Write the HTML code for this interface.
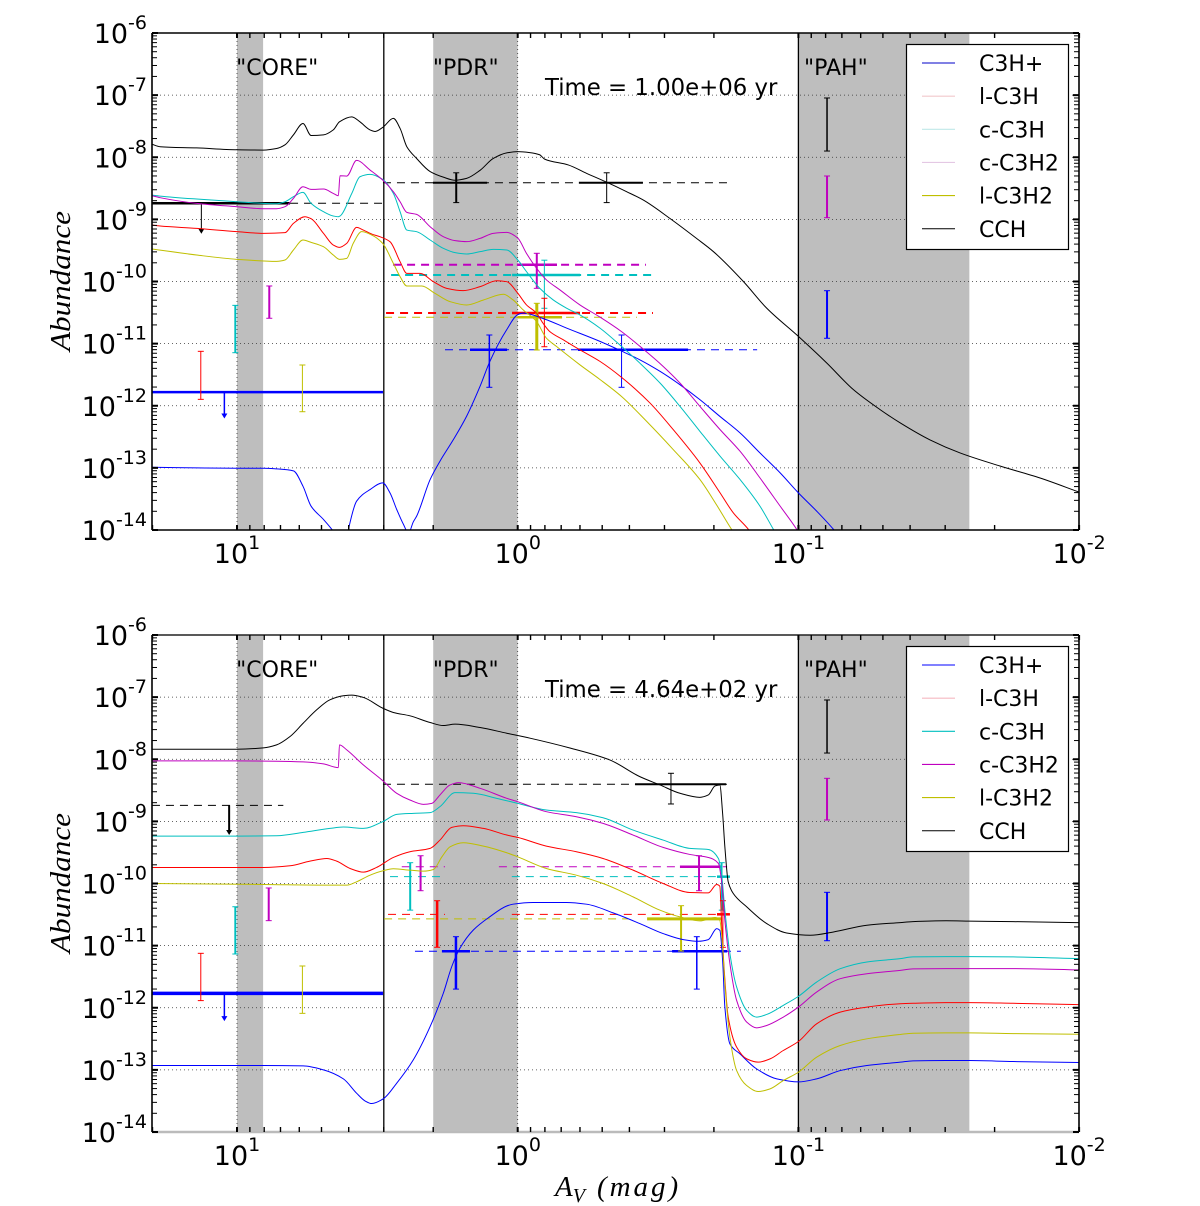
<!DOCTYPE html>
<html lang="en">
<head>
<meta charset="utf-8">
<title>Abundance versus visual extinction</title>
<style>
html,body{margin:0;padding:0;background:#fff;width:1200px;height:1206px;overflow:hidden}
svg{display:block}
text{font-family:"DejaVu Sans","Liberation Sans",sans-serif;fill:#000}
.math{font-family:"Liberation Serif",serif;font-style:italic}
</style>
</head>
<body>
<svg id="figure" xmlns="http://www.w3.org/2000/svg" width="1200" height="1206" viewBox="0 0 1200 1206">
<defs>
<clipPath id="clip-top"><rect x="152" y="33" width="927" height="497"></rect></clipPath>
<clipPath id="clip-bottom"><rect x="152" y="635" width="927" height="497"></rect></clipPath>
</defs>
</svg>
<script>
// ---- tick labels ----
const yTickExponents = [-6,-7,-8,-9,-10,-11,-12,-13,-14];
const xTickExponents = [1,0,-1,-2];
const speciesNames = ['C3H+','l-C3H','c-C3H','c-C3H2','l-C3H2','CCH'];

// ---- upper panel curves: [log10 Av, log10 abundance] ----
const topCch = [[1.303,-7.79],[1.274,-7.83],[1.144,-7.85],[1.001,-7.88],[.906,-7.885],[.859,-7.86],[.829,-7.80],[.799,-7.64],[.765,-7.456],[.736,-7.65],[.692,-7.64],[.657,-7.56],[.635,-7.43],[.591,-7.35],[.562,-7.43],[.526,-7.56],[.508,-7.585],[.481,-7.52],[.443,-7.375],[.419,-7.536],[.395,-7.83],[.36,-8.02],[.312,-8.23],[.265,-8.32],[.223,-8.37],[.182,-8.34],[.134,-8.21],[.087,-8.02],[.039,-7.93],[0,-7.91],[-.043,-7.925],[-.078,-7.96],[-.096,-8.03],[-.18,-8.124],[-.245,-8.258],[-.316,-8.40],[-.388,-8.554],[-.447,-8.688],[-.542,-8.984],[-.637,-9.306],[-.697,-9.518],[-.804,-10],[-.887,-10.429],[-1,-10.884],[-1.101,-11.312],[-1.196,-11.741],[-1.291,-12.062],[-1.363,-12.277],[-1.469,-12.55],[-1.576,-12.76],[-1.718,-12.97],[-1.861,-13.163],[-2,-13.39]];
const topMagenta = [[1.303,-8.619],[1.274,-8.651],[1.144,-8.742],[1.001,-8.796],[.906,-8.828],[.859,-8.828],[.829,-8.796],[.799,-8.662],[.765,-8.475],[.736,-8.517],[.692,-8.512],[.657,-8.582],[.639,-8.619],[.633,-8.298],[.609,-8.303],[.574,-8.051],[.526,-8.206],[.481,-8.367],[.443,-8.555],[.419,-8.716],[.395,-8.887],[.36,-8.92],[.312,-9.118],[.265,-9.279],[.223,-9.343],[.182,-9.359],[.134,-9.306],[.087,-9.225],[.039,-9.209],[0,-9.30],[-.031,-9.545],[-.067,-9.786],[-.102,-9.973],[-.15,-10.134],[-.221,-10.375],[-.293,-10.573],[-.37,-10.807],[-.447,-11.087],[-.518,-11.366],[-.578,-11.634],[-.649,-12.009],[-.721,-12.384],[-.792,-12.732],[-.863,-13.161],[-.935,-13.616],[-.994,-13.99],[-1.03,-14.26]];
const topCyan = [[1.303,-8.609],[1.274,-8.625],[1.144,-8.673],[1.001,-8.716],[.906,-8.743],[.859,-8.748],[.829,-8.716],[.799,-8.635],[.765,-8.566],[.736,-8.743],[.692,-8.877],[.657,-8.946],[.639,-8.957],[.633,-8.946],[.591,-8.582],[.562,-8.314],[.526,-8.276],[.481,-8.357],[.443,-8.582],[.419,-8.877],[.395,-9.172],[.36,-9.198],[.312,-9.332],[.265,-9.466],[.223,-9.536],[.182,-9.558],[.134,-9.52],[.087,-9.483],[.039,-9.493],[0,-9.652],[-.031,-9.839],[-.078,-10.107],[-.126,-10.295],[-.174,-10.429],[-.221,-10.536],[-.293,-10.75],[-.37,-11.045],[-.435,-11.313],[-.507,-11.634],[-.578,-12.009],[-.649,-12.411],[-.721,-12.812],[-.792,-13.187],[-.863,-13.616],[-.911,-13.99],[-.946,-14.26]];
const topRed = [[1.303,-9.091],[1.274,-9.107],[1.144,-9.145],[1.001,-9.198],[.906,-9.225],[.829,-9.214],[.799,-9.064],[.758,-8.957],[.736,-8.989],[.692,-9.225],[.657,-9.413],[.635,-9.451],[.609,-9.386],[.574,-9.129],[.55,-9.172],[.52,-9.236],[.491,-9.279],[.455,-9.359],[.419,-9.681],[.395,-9.869],[.348,-9.869],[.3,-10.003],[.253,-10.11],[.194,-10.147],[.134,-10.083],[.075,-9.987],[.039,-10.003],[0,-10.187],[-.031,-10.375],[-.067,-10.509],[-.09,-10.67],[-.114,-10.804],[-.162,-10.937],[-.221,-11.098],[-.293,-11.286],[-.37,-11.543],[-.471,-11.955],[-.554,-12.384],[-.649,-12.92],[-.721,-13.402],[-.768,-13.723],[-.822,-13.99],[-.863,-14.26]];
const topYellow = [[1.303,-9.477],[1.144,-9.574],[1.001,-9.643],[.859,-9.676],[.829,-9.654],[.799,-9.493],[.765,-9.332],[.736,-9.37],[.692,-9.44],[.657,-9.574],[.635,-9.643],[.609,-9.627],[.586,-9.386],[.556,-9.198],[.52,-9.252],[.481,-9.386],[.443,-9.708],[.419,-9.922],[.395,-10.072],[.342,-10.072],[.295,-10.19],[.241,-10.324],[.182,-10.378],[.122,-10.298],[.051,-10.206],[.017,-10.295],[-.019,-10.455],[-.067,-10.643],[-.102,-10.911],[-.138,-11.045],[-.221,-11.339],[-.293,-11.577],[-.37,-11.851],[-.459,-12.25],[-.554,-12.705],[-.649,-13.187],[-.709,-13.6],[-.762,-13.99],[-.804,-14.26]];
const topBlue = [[1.303,-12.99],[1.144,-13],[1.001,-13.005],[.906,-13.005],[.859,-13.016],[.799,-13.048],[.765,-13.295],[.736,-13.617],[.692,-13.83],[.662,-13.99],[.639,-14.13],[.609,-14.13],[.603,-13.99],[.574,-13.536],[.526,-13.349],[.481,-13.241],[.455,-13.402],[.431,-13.67],[.407,-13.91],[.389,-14.05],[.372,-13.87],[.36,-13.777],[.312,-13.188],[.277,-12.893],[.229,-12.544],[.182,-12.169],[.134,-11.686],[.099,-11.284],[.039,-10.775],[0,-10.534],[-.019,-10.509],[-.096,-10.605],[-.174,-10.75],[-.293,-10.964],[-.37,-11.12],[-.435,-11.26],[-.507,-11.446],[-.578,-11.661],[-.649,-11.902],[-.72,-12.17],[-.792,-12.437],[-.863,-12.759],[-.935,-13.08],[-1,-13.402],[-1.065,-13.696],[-1.125,-13.99],[-1.172,-14.26]];

// ---- lower panel curves ----
const botCch = [[1.303,-7.839],[1.001,-7.839],[.906,-7.817],[.859,-7.769],[.811,-7.634],[.764,-7.419],[.716,-7.204],[.669,-7.043],[.621,-6.978],[.591,-6.968],[.55,-7.005],[.481,-7.177],[.443,-7.247],[.384,-7.301],[.312,-7.409],[.265,-7.457],[.223,-7.435],[.134,-7.489],[.039,-7.581],[-.044,-7.661],[-.186,-7.819],[-.328,-8.011],[-.435,-8.28],[-.507,-8.414],[-.578,-8.548],[-.649,-8.613],[-.679,-8.575],[-.703,-8.43],[-.72,-8.414],[-.73,-8.871],[-.738,-9.409],[-.75,-9.973],[-.768,-10.161],[-.816,-10.376],[-.887,-10.645],[-.958,-10.796],[-1.042,-10.833],[-1.125,-10.78],[-1.244,-10.672],[-1.363,-10.629],[-1.408,-10.614],[-1.526,-10.6],[-1.608,-10.605],[-1.765,-10.614],[-2,-10.63]];
const botCyan = [[1.303,-9.237],[1.001,-9.237],[.859,-9.231],[.764,-9.177],[.669,-9.113],[.621,-9.091],[.55,-9.113],[.481,-9.005],[.431,-8.887],[.372,-8.871],[.312,-8.86],[.277,-8.763],[.223,-8.538],[.158,-8.548],[.075,-8.629],[0,-8.71],[-.102,-8.817],[-.209,-8.86],[-.304,-8.941],[-.411,-9.14],[-.518,-9.301],[-.613,-9.435],[-.679,-9.452],[-.715,-9.597],[-.726,-9.839],[-.738,-10.43],[-.756,-11.129],[-.78,-11.667],[-.816,-12.043],[-.851,-12.151],[-.887,-12.108],[-.946,-11.962],[-1,-11.817],[-1.065,-11.586],[-1.149,-11.371],[-1.244,-11.263],[-1.363,-11.209],[-1.408,-11.182],[-1.526,-11.177],[-1.608,-11.177],[-1.765,-11.182],[-2,-11.209]];
const botMagenta = [[1.303,-8.027],[1.001,-8.027],[.859,-8.032],[.764,-8.043],[.692,-8.075],[.639,-8.134],[.635,-7.769],[.609,-7.849],[.55,-8.091],[.481,-8.344],[.431,-8.548],[.384,-8.656],[.336,-8.726],[.306,-8.71],[.277,-8.575],[.241,-8.414],[.211,-8.376],[.134,-8.468],[.039,-8.629],[0,-8.683],[-.102,-8.844],[-.209,-8.925],[-.304,-9.032],[-.411,-9.22],[-.518,-9.419],[-.613,-9.532],[-.679,-9.581],[-.715,-9.677],[-.726,-9.946],[-.738,-10.591],[-.756,-11.29],[-.78,-11.882],[-.816,-12.231],[-.851,-12.323],[-.887,-12.285],[-.946,-12.151],[-1,-11.989],[-1.065,-11.747],[-1.149,-11.532],[-1.244,-11.452],[-1.363,-11.398],[-1.408,-11.375],[-1.526,-11.37],[-1.608,-11.37],[-1.765,-11.37],[-2,-11.391]];
const botRed = [[1.303,-9.742],[.906,-9.742],[.811,-9.715],[.74,-9.64],[.68,-9.597],[.645,-9.64],[.597,-9.758],[.55,-9.817],[.503,-9.742],[.443,-9.581],[.384,-9.489],[.312,-9.435],[.277,-9.301],[.235,-9.097],[.194,-9.07],[.122,-9.113],[.039,-9.22],[0,-9.258],[-.102,-9.398],[-.209,-9.489],[-.304,-9.597],[-.411,-9.785],[-.518,-10],[-.613,-10.145],[-.679,-10.151],[-.709,-10.016],[-.72,-10.043],[-.726,-10.591],[-.735,-11.344],[-.75,-12.151],[-.78,-12.634],[-.816,-12.823],[-.857,-12.876],[-.899,-12.823],[-.946,-12.688],[-1,-12.543],[-1.065,-12.258],[-1.149,-12.07],[-1.244,-11.989],[-1.363,-11.935],[-1.408,-11.928],[-1.526,-11.917],[-1.608,-11.917],[-1.765,-11.928],[-2,-11.949]];
const botYellow = [[1.303,-10],[.906,-10.016],[.669,-10.027],[.609,-10.027],[.574,-9.973],[.526,-9.866],[.481,-9.796],[.443,-9.763],[.384,-9.785],[.336,-9.801],[.3,-9.774],[.27,-9.57],[.241,-9.409],[.194,-9.344],[.122,-9.398],[.039,-9.505],[0,-9.57],[-.102,-9.758],[-.209,-9.866],[-.304,-10],[-.411,-10.215],[-.507,-10.43],[-.578,-10.538],[-.649,-10.602],[-.703,-10.548],[-.72,-10.591],[-.73,-11.022],[-.738,-11.613],[-.756,-12.473],[-.78,-13.011],[-.816,-13.253],[-.857,-13.349],[-.899,-13.306],[-.946,-13.172],[-1,-13.038],[-1.065,-12.796],[-1.149,-12.608],[-1.244,-12.5],[-1.363,-12.43],[-1.408,-12.41],[-1.526,-12.405],[-1.608,-12.405],[-1.765,-12.416],[-2,-12.426]];
const botBlue = [[1.303,-12.93],[.906,-12.93],[.764,-12.936],[.692,-13],[.621,-13.145],[.574,-13.375],[.544,-13.499],[.52,-13.542],[.479,-13.466],[.431,-13.214],[.372,-12.839],[.312,-12.303],[.265,-11.767],[.235,-11.338],[.206,-11.043],[.158,-10.748],[.099,-10.534],[.039,-10.362],[.017,-10.333],[-.055,-10.306],[-.174,-10.306],[-.245,-10.333],[-.34,-10.473],[-.435,-10.645],[-.518,-10.806],[-.59,-10.903],[-.643,-10.93],[-.679,-10.903],[-.709,-10.726],[-.72,-10.753],[-.73,-11.237],[-.738,-11.989],[-.756,-12.581],[-.792,-12.742],[-.851,-12.984],[-.923,-13.145],[-1,-13.194],[-1.065,-13.145],[-1.149,-13.011],[-1.244,-12.93],[-1.363,-12.876],[-1.408,-12.855],[-1.526,-12.85],[-1.608,-12.85],[-1.765,-12.866],[-2,-12.882]];

// ---- observed error bars: [log Av, log N high, log N low, species, width] ----
const topErrorBars = [[-1.102,-7.046,-7.9,'k',1.5],[-1.102,-8.302,-8.973,'m',2],[-1.102,-10.148,-10.914,'b',2],[1.129,-11.124,-11.897,'r',1],[1.006,-10.384,-11.146,'c',2],[.885,-10.072,-10.592,'m',2],[.767,-11.344,-12.096,'y',1],[.219,-8.25,-8.73,'k',2],[-.317,-8.25,-8.73,'k',1],[-.068,-9.546,-10.11,'m',2],[-.095,-9.657,-10.431,'c',1],[-.095,-10.27,-11.05,'r',1],[-.068,-10.351,-11.103,'y',3],[.101,-10.861,-11.703,'b',1.5],[-.37,-10.861,-11.703,'b',1]];
const botErrorBars = [[-1.102,-7.046,-7.9,'k',1.5],[-1.102,-8.307,-8.978,'m',2],[-1.102,-10.142,-10.921,'b',2],[1.129,-11.124,-11.885,'r',1],[1.006,-10.374,-11.135,'c',2],[.887,-10.072,-10.598,'m',2],[.767,-11.328,-12.09,'y',1],[-.546,-8.226,-8.72,'k',1],[-.646,-9.553,-10.116,'m',2],[.346,-9.553,-10.116,'m',2],[.383,-9.665,-10.429,'c',2],[-.727,-9.665,-10.429,'c',1.5],[-.582,-10.357,-11.087,'y',2],[-.638,-10.856,-11.7,'b',1.5],[.287,-10.277,-11.027,'r',2.5],[.22,-10.856,-11.7,'b',2.5],[-.731,-10.277,-11.027,'r',1]];

// ---- observed abundance levels: [log Av start, log Av end, log N, species, width, dashed] ----
const topLevels = [[1.303,.48,-11.78,'b',2.5,0],[1.303,.811,-8.741,'k',2.5,0],[.811,.48,-8.741,'k',1,1],[.48,-.746,-8.41,'k',1,1],[.302,.109,-8.41,'k',2,0],[-.218,-.446,-8.41,'k',2,0],[.444,-.457,-9.73,'m',2,1],[.003,-.14,-9.73,'m',2.5,0],[.451,-.478,-9.895,'c',2,1],[.02,-.222,-9.895,'c',2.5,0],[.469,-.482,-10.507,'r',2,1],[.02,-.222,-10.507,'r',2.5,0],[.476,-.425,-10.576,'y',1,1],[0,-.158,-10.576,'y',2.5,0],[.259,-.853,-11.098,'b',1,1],[.17,.038,-11.098,'b',2.5,0],[-.215,-.607,-11.098,'b',2.5,0]];
const botLevels = [[1.303,.48,-11.768,'b',3.5,0],[1.303,.835,-8.742,'k',1,1],[.48,-.746,-8.403,'k',1,1],[-.418,-.742,-8.403,'k',2,0],[.413,.259,-9.73,'m',1,1],[.067,-.746,-9.73,'m',1,1],[-.578,-.728,-9.73,'m',2.5,0],[.455,.259,-9.89,'c',1,1],[.021,-.756,-9.89,'c',1,1],[-.71,-.756,-9.89,'c',2.5,0],[.462,.259,-10.496,'r',1,1],[.021,-.756,-10.496,'r',1,1],[-.71,-.756,-10.496,'r',2.5,0],[.476,-.393,-10.57,'y',1,1],[-.461,-.728,-10.57,'y',3,0],[.366,-.795,-11.09,'b',1,1],[.27,.17,-11.09,'b',2.5,0],[-.55,-.746,-11.09,'b',2.5,0]];

// ---- upper-limit arrows: [log Av, log N start, log N end, species, width] ----
const topArrows = [[1.045,-11.785,-12.19,'b',1.5],[1.127,-8.741,-9.215,'k',1]];
const botArrows = [[1.045,-11.768,-12.2,'b',1.5],[1.028,-8.742,-9.203,'k',2]];

// ---- model regions, log Av bounds ----
const shadedRegions = [[1,.907],[.301,0],[-1,-1.609]];
const regionDividers = [.477,-1];
const regionLabels = [['"CORE"',1.003],['"PDR"',.302],['"PAH"',-1.02]];

const colors = {k:'#000000',m:'#bf00bf',c:'#00bfbf',y:'#bfbf00',r:'#ff0000',b:'#0000ff'};
const NS = 'http://www.w3.org/2000/svg';
const svg = document.getElementById('figure');
const DEC_Y = 62.125, DEC_X = 280.7, X0 = 237, LEFT = 152, RIGHT = 1079;

function xScale(l){ return X0 + (1 - l) * DEC_X; }
function yScale(top, n){ return top + (-6 - n) * DEC_Y; }

function add(parent, tag, attrs, name, interact){
  const el = document.createElementNS(NS, tag);
  for (const k in attrs) el.setAttribute(k, attrs[k]);
  
  
  parent.appendChild(el);
  return el;
}

// Shape-preserving cubic path through the scaled points
function smoothPath(pts){
  const n = pts.length, d = [], h = [], m = [];
  for (let i = 0; i < n - 1; i++){
    h[i] = Math.max(pts[i+1][0] - pts[i][0], 0.01);
    d[i] = (pts[i+1][1] - pts[i][1]) / h[i];
  }
  m[0] = d[0]; m[n-1] = d[n-2];
  for (let i = 1; i < n - 1; i++){
    if (d[i-1] * d[i] <= 0) { m[i] = 0; continue; }
    const w1 = 2 * h[i] + h[i-1], w2 = h[i] + 2 * h[i-1];
    m[i] = (w1 + w2) / (w1 / d[i-1] + w2 / d[i]);
  }
  let s = 'M' + pts[0][0].toFixed(2) + ' ' + pts[0][1].toFixed(2);
  for (let i = 0; i < n - 1; i++){
    const t = h[i] / 3;
    s += 'C' + (pts[i][0] + t).toFixed(2) + ' ' + (pts[i][1] + m[i] * t).toFixed(2) + ' ' +
         (pts[i+1][0] - t).toFixed(2) + ' ' + (pts[i+1][1] - m[i+1] * t).toFixed(2) + ' ' +
         pts[i+1][0].toFixed(2) + ' ' + pts[i+1][1].toFixed(2);
  }
  return s;
}

function drawPanel(cfg){
  const top = cfg.top, bottom = top + 8 * DEC_Y;
  const y = n => yScale(top, n);
  const g = add(svg, 'g', {}, cfg.key + '-panel');

  shadedRegions.forEach(r => {
    add(g, 'rect', {x:xScale(r[0]), y:top, width:xScale(r[1]) - xScale(r[0]), height:bottom - top, fill:'#bebebe'}, 'shaded-region');
  });

  yTickExponents.forEach(e => {
    add(g, 'line', {x1:LEFT, x2:RIGHT, y1:y(e), y2:y(e), stroke:'#333', 'stroke-width':.8, 'stroke-dasharray':'1 3'}, 'y-gridline');
  });
  xTickExponents.forEach(e => {
    add(g, 'line', {x1:xScale(e), x2:xScale(e), y1:top, y2:bottom, stroke:'#333', 'stroke-width':.8, 'stroke-dasharray':'1 3'}, 'x-gridline');
  });

  regionDividers.forEach(l => {
    add(g, 'line', {x1:xScale(l), x2:xScale(l), y1:top, y2:bottom, stroke:'#000', 'stroke-width':1.3}, 'region-divider');
  });

  const marks = add(g, 'g', {'clip-path':'url(#clip-' + cfg.key + ')'}, cfg.key + '-marks');

  cfg.levels.forEach(v => {
    const a = {x1:xScale(v[0]), x2:xScale(v[1]), y1:y(v[2]), y2:y(v[2]), stroke:colors[v[3]], 'stroke-width':v[4]};
    if (v[5]) a['stroke-dasharray'] = '8 6';
    add(marks, 'line', a, 'observed-level');
  });

  cfg.bars.forEach(v => {
    const bar = add(marks, 'g', {stroke:colors[v[3]], 'stroke-width':v[4]}, 'error-bar');
    add(bar, 'line', {x1:xScale(v[0]), x2:xScale(v[0]), y1:y(v[1]), y2:y(v[2])}, 'error-bar-stem');
    add(bar, 'line', {x1:xScale(v[0]) - 3, x2:xScale(v[0]) + 3, y1:y(v[1]), y2:y(v[1]), 'stroke-width':1}, 'error-bar-cap');
    add(bar, 'line', {x1:xScale(v[0]) - 3, x2:xScale(v[0]) + 3, y1:y(v[2]), y2:y(v[2]), 'stroke-width':1}, 'error-bar-cap');
  });

  cfg.arrows.forEach(v => {
    const x = xScale(v[0]), y1 = y(v[1]), y2 = y(v[2]);
    add(marks, 'line', {x1:x, x2:x, y1:y1, y2:y2 - 3, stroke:colors[v[3]], 'stroke-width':v[4]}, 'upper-limit-arrow');
    add(marks, 'polygon', {points:(x-3)+','+(y2-4)+' '+(x+3)+','+(y2-4)+' '+x+','+(y2+1), fill:colors[v[3]]}, 'upper-limit-arrowhead');
  });

  cfg.series.forEach(s => {
    const pts = s.data.map(p => [xScale(p[0]), y(p[1])]);
    add(marks, 'path', {d:smoothPath(pts), fill:'none', stroke:colors[s.color], 'stroke-width':1, 'stroke-linejoin':'round'}, 'curve-' + s.name.toLowerCase().replace('+','-plus'));
  });

  // frame
  add(g, 'line', {x1:LEFT, x2:RIGHT, y1:top, y2:top, stroke:cfg.frameTop, 'stroke-width':1.6}, 'axis-top');
  add(g, 'line', {x1:LEFT, x2:RIGHT, y1:bottom, y2:bottom, stroke:cfg.frameBottom, 'stroke-width':cfg.frameBottomWidth}, 'axis-bottom');
  add(g, 'line', {x1:LEFT, x2:LEFT, y1:top, y2:bottom, stroke:'#000', 'stroke-width':1.6}, 'axis-left');
  add(g, 'line', {x1:RIGHT, x2:RIGHT, y1:top, y2:bottom, stroke:'#000', 'stroke-width':1.6}, 'axis-right');

  // y ticks
  for (let e = -14; e <= -6; e++){
    add(g, 'line', {x1:LEFT, x2:LEFT + 6, y1:y(e), y2:y(e), stroke:'#000', 'stroke-width':2}, 'y-major-tick');
    add(g, 'line', {x1:RIGHT - 6, x2:RIGHT, y1:y(e), y2:y(e), stroke:'#000', 'stroke-width':2}, 'y-major-tick-right');
    if (e < -6) for (let m = 2; m < 10; m++){
      const yy = y(e + Math.log10(m));
      add(g, 'line', {x1:LEFT, x2:LEFT + 5, y1:yy, y2:yy, stroke:'#000', 'stroke-width':1}, 'y-minor-tick');
      add(g, 'line', {x1:RIGHT - 5, x2:RIGHT, y1:yy, y2:yy, stroke:'#000', 'stroke-width':1}, 'y-minor-tick-right');
    }
  }
  // x ticks
  for (let e = -3; e <= 1; e++){
    for (let m = 1; m < 10; m++){
      const l = e + Math.log10(m);
      if (l > 1.304 || l < -2.001) continue;
      const xx = xScale(l), w = m === 1 ? 2 : 1.4;
      add(g, 'line', {x1:xx, x2:xx, y1:bottom - 5, y2:bottom, stroke:'#000', 'stroke-width':w}, 'x-tick');
      add(g, 'line', {x1:xx, x2:xx, y1:top, y2:top + 5, stroke:'#000', 'stroke-width':w}, 'x-tick-top');
    }
  }

  // tick labels
  yTickExponents.forEach(e => {
    const t = add(g, 'text', {x:147, y:y(e) + 10, 'text-anchor':'end', 'font-size':27}, 'y-tick-label');
    const a = add(t, 'tspan', {}, 'y-tick-base');
    a.textContent = '10';
    const b = add(t, 'tspan', {dy:-14, 'font-size':19}, 'y-tick-exponent');
    b.textContent = String(e);
  });
  xTickExponents.forEach(e => {
    const t = add(g, 'text', {x:xScale(e), y:bottom + 33, 'text-anchor':'middle', 'font-size':27}, 'x-tick-label');
    const a = add(t, 'tspan', {}, 'x-tick-base');
    a.textContent = '10';
    const b = add(t, 'tspan', {dy:-14, 'font-size':19}, 'x-tick-exponent');
    b.textContent = String(e);
  });

  // y title
  const yt = add(g, 'text', {x:0, y:0, transform:'translate(70 ' + (top + 248) + ') rotate(-90)', 'text-anchor':'middle', 'font-size':28, class:'math', textLength:140, lengthAdjust:'spacingAndGlyphs'}, 'y-axis-title');
  yt.textContent = 'Abundance';

  // annotations
  regionLabels.forEach(r => {
    const t = add(g, 'text', {x:xScale(r[1]), y:top + 42, 'font-size':22}, 'region-label');
    t.textContent = r[0];
  });
  const tl = add(g, 'text', {x:545, y:top + 62, 'font-size':22.8}, 'time-label');
  tl.textContent = cfg.time;

  // legend
  const lg = add(g, 'g', {}, 'legend');
  add(lg, 'rect', {x:906.5, y:top + 11.5, width:162, height:205, fill:'#fff', stroke:'#000', 'stroke-width':1.2}, 'legend-box');
  speciesNames.forEach((name, i) => {
    const ly = top + 30 + i * 33.15;
    add(lg, 'line', {x1:922, x2:955, y1:ly, y2:ly, stroke:cfg.legendColors[i], 'stroke-width':1.1}, 'legend-line');
    const t = add(lg, 'text', {x:979, y:ly + 8, 'font-size':22}, 'legend-label');
    t.textContent = name;
  });
}

drawPanel({
  key:'top', top:33, time:'Time = 1.00e+06 yr', frameTop:'#000', frameBottom:'#000', frameBottomWidth:1.6,
  levels:topLevels, bars:topErrorBars, arrows:topArrows,
  series:[{name:'C3H+',data:topBlue,color:'b'},{name:'l-C3H',data:topRed,color:'r'},{name:'c-C3H',data:topCyan,color:'c'},{name:'c-C3H2',data:topMagenta,color:'m'},{name:'l-C3H2',data:topYellow,color:'y'},{name:'CCH',data:topCch,color:'k'}],
  legendColors:['#0000c8','#f2c8cc','#bfe8e8','#e4c8e4','#bfbf00','#000']
});
drawPanel({
  key:'bottom', top:635, time:'Time = 4.64e+02 yr', frameTop:'#222', frameBottom:'#bbb', frameBottomWidth:2.5,
  levels:botLevels, bars:botErrorBars, arrows:botArrows,
  series:[{name:'C3H+',data:botBlue,color:'b'},{name:'l-C3H',data:botRed,color:'r'},{name:'c-C3H',data:botCyan,color:'c'},{name:'c-C3H2',data:botMagenta,color:'m'},{name:'l-C3H2',data:botYellow,color:'y'},{name:'CCH',data:botCch,color:'k'}],
  legendColors:['#0000ff','#f5b8c0','#00bfbf','#bf00bf','#bfbf00','#000']
});

const xt = add(svg, 'text', {x:555, y:1196, 'font-size':29, class:'math'}, 'x-axis-title');
const xtA = add(xt, 'tspan', {}, 'x-axis-title-symbol');
xtA.textContent = 'A';
const xtV = add(xt, 'tspan', {dy:6, 'font-size':20}, 'x-axis-title-subscript');
xtV.textContent = 'V';
const xtU = add(xt, 'tspan', {dy:-6, dx:12, 'letter-spacing':'3'}, 'x-axis-title-unit');
xtU.textContent = '(mag)';
</script>
</body>
</html>
